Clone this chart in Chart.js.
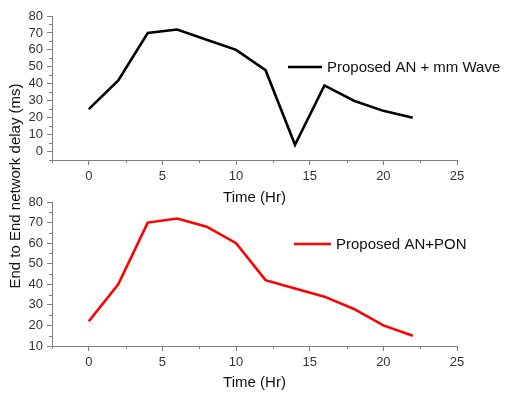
<!DOCTYPE html>
<html>
<head>
<meta charset="utf-8">
<title>End to End network delay</title>
<script src="https://cdn.jsdelivr.net/npm/chart.js@4.4.0/dist/chart.umd.min.js"></script>
<style>
  html, body { margin: 0; padding: 0; background: #fff; }
  #wrap { position: relative; width: 507px; height: 394px; overflow: hidden; }
  #topChart { position: absolute; left: 0; top: 0; }
  #bottomChart { position: absolute; left: 0; top: 186px; }
</style>
</head>
<body>
<div id="wrap">
  <canvas id="topChart" width="507" height="394"></canvas>
  <canvas id="bottomChart" width="507" height="208"></canvas>
</div>
<script>
// Delay readings over the day, sampled every 2 hours
const hours = [0, 2, 4, 6, 8, 10, 12, 14, 16, 18, 20, 22];
const mmWaveDelay = [25, 42, 70, 72, 66, 60, 48, 4, 39, 30, 24, 20];
const ponDelay = [22, 40, 70, 72, 68, 60, 42, 38, 34, 28, 20, 15];

const xTicks = [0, 5, 10, 15, 20, 25];
const xMinorTicks = [-2.5, 2.5, 7.5, 12.5, 17.5, 22.5];
const topYTicks = [0, 10, 20, 30, 40, 50, 60, 70, 80];
const topYMinorTicks = [-5, 5, 15, 25, 35, 45, 55, 65, 75];
const bottomYTicks = [10, 20, 30, 40, 50, 60, 70, 80];
const bottomYMinorTicks = [15, 25, 35, 45, 55, 65, 75];

const FONT = '"Liberation Sans", Arial, sans-serif';
const AXIS_GREY = '#808080';
const TICK_TEXT = '#333';

Chart.defaults.font.family = FONT;
Chart.defaults.animation = false;

// small ticks between the labelled ones
const minorTicks = {
  id: 'minorTicks',
  afterDraw(chart, args, opts) {
    const ctx = chart.ctx;
    const xs = chart.scales.x, ys = chart.scales.y;
    const area = chart.chartArea;
    ctx.save();
    ctx.strokeStyle = AXIS_GREY;
    ctx.lineWidth = 1;
    ctx.beginPath();
    opts.x.forEach(v => {
      const px = Math.round(xs.getPixelForValue(v)) + 0.5;
      ctx.moveTo(px, area.bottom);
      ctx.lineTo(px, area.bottom + 3);
    });
    opts.y.forEach(v => {
      const py = Math.round(ys.getPixelForValue(v)) + 0.5;
      ctx.moveTo(area.left, py);
      ctx.lineTo(area.left - 3, py);
    });
    ctx.stroke();
    ctx.restore();
  }
};

// line sample + label sitting inside the plot
const inlineLegend = {
  id: 'inlineLegend',
  afterDraw(chart, args, opts) {
    const ctx = chart.ctx;
    const area = chart.chartArea;
    const ds = chart.data.datasets[0];
    const x0 = area.left + opts.dx;
    const y = area.top + opts.dy;
    ctx.save();
    ctx.strokeStyle = ds.borderColor;
    ctx.lineWidth = ds.borderWidth;
    ctx.beginPath();
    ctx.moveTo(x0, y);
    ctx.lineTo(x0 + opts.len, y);
    ctx.stroke();
    ctx.fillStyle = '#111';
    ctx.font = '15px ' + FONT;
    ctx.textBaseline = 'middle';
    ctx.fillText(ds.label, x0 + opts.len + 5, y + 1);
    ctx.restore();
  }
};

// shared y-axis title, drawn once across both panels
const sharedYTitle = {
  id: 'sharedYTitle',
  afterDraw(chart, args, opts) {
    if (!opts.text) return;
    const ctx = chart.ctx;
    ctx.save();
    ctx.translate(opts.x, opts.y);
    ctx.rotate(-Math.PI / 2);
    ctx.fillStyle = '#111';
    ctx.font = '15px ' + FONT;
    ctx.textAlign = 'center';
    ctx.textBaseline = 'middle';
    ctx.fillText(opts.text, 0, 0);
    ctx.restore();
  }
};

function makeChart(canvasId, label, values, color, yMin, yTicks, yMinor, axisHeight, titlePad, extraBottom, legendPos, yTitle) {
  return new Chart(document.getElementById(canvasId), {
    type: 'line',
    data: {
      datasets: [{
        label: label,
        data: hours.map((h, i) => ({ x: h, y: values[i] })),
        borderColor: color,
        borderWidth: 2.6,
        pointRadius: 0,
        tension: 0,
        fill: false
      }]
    },
    options: {
      responsive: false,
      devicePixelRatio: 1,
      layout: { padding: { left: 0, top: 16, right: 50, bottom: extraBottom } },
      plugins: {
        legend: { display: false },
        tooltip: { enabled: false },
        minorTicks: { x: xMinorTicks, y: yMinor },
        inlineLegend: legendPos,
        sharedYTitle: yTitle
      },
      scales: {
        x: {
          type: 'linear',
          min: -2.5,
          max: 25,
          afterBuildTicks: s => { s.ticks = xTicks.map(v => ({ value: v })); },
          afterFit: s => { s.height = axisHeight; },
          grid: { drawOnChartArea: false, drawTicks: true, tickLength: 5, tickColor: AXIS_GREY },
          border: { display: true, color: AXIS_GREY, width: 1 },
          ticks: { color: TICK_TEXT, font: { size: 13 }, padding: 4, maxRotation: 0, autoSkip: false },
          title: { display: true, text: 'Time (Hr)', color: '#111', font: { size: 15 }, padding: { top: 0, bottom: titlePad } }
        },
        y: {
          min: yMin,
          max: 80,
          afterBuildTicks: s => { s.ticks = yTicks.map(v => ({ value: v })); },
          afterFit: s => { s.width = 52; },
          grid: { drawOnChartArea: false, drawTicks: true, tickLength: 5, tickColor: AXIS_GREY },
          border: { display: true, color: AXIS_GREY, width: 1 },
          ticks: { color: TICK_TEXT, font: { size: 13 }, padding: 4, autoSkip: false }
        }
      }
    },
    plugins: [minorTicks, inlineLegend, sharedYTitle]
  });
}

makeChart('topChart', 'Proposed AN + mm Wave', mmWaveDelay, '#000000',
  -5, topYTicks, topYMinorTicks, 50, 3, 184, { dx: 236, dy: 51, len: 34 },
  { text: 'End to End network delay (ms)', x: 16, y: 186 });
makeChart('bottomChart', 'Proposed AN+PON', ponDelay, '#ff0000',
  10, bottomYTicks, bottomYMinorTicks, 48, 2, 0, { dx: 242, dy: 42, len: 37 },
  { text: '' });
</script>
</body>
</html>
